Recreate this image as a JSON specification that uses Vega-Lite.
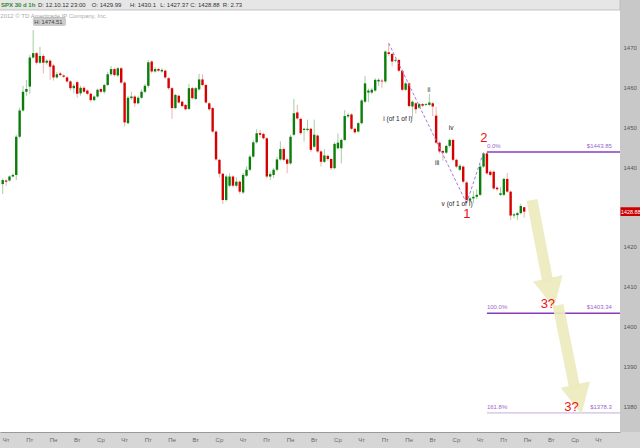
{
  "$schema": "https://vega.github.io/schema/vega-lite/v6.json",
  "width": 620,
  "height": 432,
  "autosize": {"type": "none"},
  "padding": {"left": 0, "top": 0, "right": 20, "bottom": 16},
  "background": "#d6d6d6",
  "view": {"fill": "#ffffff", "stroke": null},
  "config": {"font": "Liberation Sans"},
  "datasets": {
    "one": [{}],
    "days": [
      {"i": 1, "d": "Чт"}, {"i": 8, "d": "Пт"}, {"i": 15, "d": "Пн"}, {"i": 22, "d": "Вт"}, {"i": 29, "d": "Ср"},
      {"i": 36, "d": "Чт"}, {"i": 43, "d": "Пт"}, {"i": 50, "d": "Пн"}, {"i": 57, "d": "Вт"}, {"i": 64, "d": "Ср"},
      {"i": 71, "d": "Чт"}, {"i": 78, "d": "Пт"}, {"i": 85, "d": "Пн"}, {"i": 92, "d": "Вт"}, {"i": 99, "d": "Ср"},
      {"i": 106, "d": "Чт"}, {"i": 113, "d": "Пт"}, {"i": 120, "d": "Пн"}, {"i": 127, "d": "Вт"}, {"i": 134, "d": "Ср"},
      {"i": 141, "d": "Чт"}, {"i": 148, "d": "Пт"}, {"i": 155, "d": "Пн"}, {"i": 162, "d": "Вт"}, {"i": 169, "d": "Ср"},
      {"i": 176, "d": "Чт"}
    ],
    "candles": [
      {"i":0,"o":1435.8,"h":1437.2,"l":1433.3,"c":1436.8},
      {"i":1,"o":1436.7,"h":1437.0,"l":1435.3,"c":1436.4},
      {"i":2,"o":1436.7,"h":1438.0,"l":1436.4,"c":1437.7},
      {"i":3,"o":1437.7,"h":1438.5,"l":1437.5,"c":1438.1},
      {"i":4,"o":1438.1,"h":1448.2,"l":1436.8,"c":1447.7},
      {"i":5,"o":1447.7,"h":1455.0,"l":1447.3,"c":1454.3},
      {"i":6,"o":1454.3,"h":1460.5,"l":1454.0,"c":1459.0},
      {"i":7,"o":1459.0,"h":1462.0,"l":1458.0,"c":1459.7},
      {"i":8,"o":1460.3,"h":1468.3,"l":1458.5,"c":1467.6},
      {"i":9,"o":1467.6,"h":1474.51,"l":1467.3,"c":1468.7},
      {"i":10,"o":1468.7,"h":1469.0,"l":1465.8,"c":1466.3},
      {"i":11,"o":1466.3,"h":1470.3,"l":1466.0,"c":1468.0},
      {"i":12,"o":1468.0,"h":1468.5,"l":1463.6,"c":1466.3},
      {"i":13,"o":1466.3,"h":1467.2,"l":1465.8,"c":1466.8},
      {"i":14,"o":1466.8,"h":1467.2,"l":1462.0,"c":1465.3},
      {"i":15,"o":1465.6,"h":1466.0,"l":1461.8,"c":1462.6},
      {"i":16,"o":1462.6,"h":1464.0,"l":1462.3,"c":1463.4},
      {"i":17,"o":1463.6,"h":1464.0,"l":1462.9,"c":1463.2},
      {"i":18,"o":1463.1,"h":1463.4,"l":1462.5,"c":1462.8},
      {"i":19,"o":1462.6,"h":1462.9,"l":1461.3,"c":1461.6},
      {"i":20,"o":1461.6,"h":1461.9,"l":1459.3,"c":1459.9},
      {"i":21,"o":1459.9,"h":1461.0,"l":1458.6,"c":1460.5},
      {"i":22,"o":1461.4,"h":1461.8,"l":1457.5,"c":1458.5},
      {"i":23,"o":1458.6,"h":1460.5,"l":1458.0,"c":1460.0},
      {"i":24,"o":1460.0,"h":1460.4,"l":1458.6,"c":1459.0},
      {"i":25,"o":1459.3,"h":1459.6,"l":1458.1,"c":1458.5},
      {"i":26,"o":1458.5,"h":1458.8,"l":1456.5,"c":1456.9},
      {"i":27,"o":1456.9,"h":1458.1,"l":1456.6,"c":1457.8},
      {"i":28,"o":1457.8,"h":1459.8,"l":1457.5,"c":1459.5},
      {"i":29,"o":1459.7,"h":1460.0,"l":1458.7,"c":1459.0},
      {"i":30,"o":1459.0,"h":1461.0,"l":1458.5,"c":1460.7},
      {"i":31,"o":1460.7,"h":1464.0,"l":1460.4,"c":1463.4},
      {"i":32,"o":1463.4,"h":1465.5,"l":1463.0,"c":1464.7},
      {"i":33,"o":1464.7,"h":1465.0,"l":1462.8,"c":1463.2},
      {"i":34,"o":1463.1,"h":1465.2,"l":1462.7,"c":1464.9},
      {"i":35,"o":1464.9,"h":1465.2,"l":1461.0,"c":1461.3},
      {"i":36,"o":1461.3,"h":1461.6,"l":1450.3,"c":1451.3},
      {"i":37,"o":1451.1,"h":1458.0,"l":1450.8,"c":1457.5},
      {"i":38,"o":1457.4,"h":1459.0,"l":1457.0,"c":1457.8},
      {"i":39,"o":1457.8,"h":1458.2,"l":1455.2,"c":1456.1},
      {"i":40,"o":1456.1,"h":1458.0,"l":1455.8,"c":1457.5},
      {"i":41,"o":1457.5,"h":1459.6,"l":1457.2,"c":1459.0},
      {"i":42,"o":1459.0,"h":1461.0,"l":1458.7,"c":1460.5},
      {"i":43,"o":1460.5,"h":1467.0,"l":1460.0,"c":1466.4},
      {"i":44,"o":1466.6,"h":1466.9,"l":1463.6,"c":1464.1},
      {"i":45,"o":1464.1,"h":1465.2,"l":1463.8,"c":1464.7},
      {"i":46,"o":1464.7,"h":1465.0,"l":1464.0,"c":1464.3},
      {"i":47,"o":1464.1,"h":1464.9,"l":1463.8,"c":1464.5},
      {"i":48,"o":1464.3,"h":1464.6,"l":1462.2,"c":1462.6},
      {"i":49,"o":1462.4,"h":1462.7,"l":1459.5,"c":1459.9},
      {"i":50,"o":1459.9,"h":1460.2,"l":1452.2,"c":1454.9},
      {"i":51,"o":1454.9,"h":1458.5,"l":1454.6,"c":1458.2},
      {"i":52,"o":1458.0,"h":1458.3,"l":1456.0,"c":1456.3},
      {"i":53,"o":1456.5,"h":1456.8,"l":1455.0,"c":1455.4},
      {"i":54,"o":1455.7,"h":1455.9,"l":1454.3,"c":1454.6},
      {"i":55,"o":1454.7,"h":1461.0,"l":1454.4,"c":1459.9},
      {"i":56,"o":1459.9,"h":1460.2,"l":1457.0,"c":1457.4},
      {"i":57,"o":1457.2,"h":1460.2,"l":1456.9,"c":1459.9},
      {"i":58,"o":1459.6,"h":1463.5,"l":1459.3,"c":1462.1},
      {"i":59,"o":1462.1,"h":1463.4,"l":1460.4,"c":1460.7},
      {"i":60,"o":1460.7,"h":1461.0,"l":1456.0,"c":1456.3},
      {"i":61,"o":1456.1,"h":1456.4,"l":1454.2,"c":1454.6},
      {"i":62,"o":1454.9,"h":1455.2,"l":1448.7,"c":1449.0},
      {"i":63,"o":1449.0,"h":1449.3,"l":1441.7,"c":1442.0},
      {"i":64,"o":1441.9,"h":1442.2,"l":1437.5,"c":1438.4},
      {"i":65,"o":1438.4,"h":1438.6,"l":1430.8,"c":1431.8},
      {"i":66,"o":1431.8,"h":1438.2,"l":1431.4,"c":1437.7},
      {"i":67,"o":1435.4,"h":1438.5,"l":1435.0,"c":1437.7},
      {"i":68,"o":1437.7,"h":1438.0,"l":1435.0,"c":1435.4},
      {"i":69,"o":1435.4,"h":1437.5,"l":1435.0,"c":1436.4},
      {"i":70,"o":1436.4,"h":1436.7,"l":1433.3,"c":1433.9},
      {"i":71,"o":1433.7,"h":1438.6,"l":1433.3,"c":1438.1},
      {"i":72,"o":1437.9,"h":1440.2,"l":1437.6,"c":1439.4},
      {"i":73,"o":1439.4,"h":1443.2,"l":1439.0,"c":1442.7},
      {"i":74,"o":1442.7,"h":1446.8,"l":1442.4,"c":1446.3},
      {"i":75,"o":1446.3,"h":1449.6,"l":1446.0,"c":1448.6},
      {"i":76,"o":1448.6,"h":1449.4,"l":1447.5,"c":1448.2},
      {"i":77,"o":1448.4,"h":1448.7,"l":1447.0,"c":1447.3},
      {"i":78,"o":1447.3,"h":1447.6,"l":1437.2,"c":1437.7},
      {"i":79,"o":1437.7,"h":1439.0,"l":1436.8,"c":1438.3},
      {"i":80,"o":1438.1,"h":1439.8,"l":1437.3,"c":1439.4},
      {"i":81,"o":1439.4,"h":1442.6,"l":1439.0,"c":1442.0},
      {"i":82,"o":1442.0,"h":1446.5,"l":1441.7,"c":1444.6},
      {"i":83,"o":1444.6,"h":1445.0,"l":1441.5,"c":1441.9},
      {"i":84,"o":1442.0,"h":1442.3,"l":1438.5,"c":1440.9},
      {"i":85,"o":1441.0,"h":1448.2,"l":1440.7,"c":1447.7},
      {"i":86,"o":1448.2,"h":1457.2,"l":1447.9,"c":1453.6},
      {"i":87,"o":1453.8,"h":1455.7,"l":1452.0,"c":1452.3},
      {"i":88,"o":1452.2,"h":1452.5,"l":1448.2,"c":1448.6},
      {"i":89,"o":1449.4,"h":1450.0,"l":1446.5,"c":1449.7},
      {"i":90,"o":1449.4,"h":1452.0,"l":1449.0,"c":1449.7},
      {"i":91,"o":1449.7,"h":1450.0,"l":1443.9,"c":1444.4},
      {"i":92,"o":1445.2,"h":1452.0,"l":1444.9,"c":1448.2},
      {"i":93,"o":1448.0,"h":1448.3,"l":1443.6,"c":1444.0},
      {"i":94,"o":1444.0,"h":1444.3,"l":1440.2,"c":1441.4},
      {"i":95,"o":1441.4,"h":1444.6,"l":1441.1,"c":1443.0},
      {"i":96,"o":1442.9,"h":1443.2,"l":1441.6,"c":1442.1},
      {"i":97,"o":1442.1,"h":1442.4,"l":1439.3,"c":1439.8},
      {"i":98,"o":1439.8,"h":1446.3,"l":1439.5,"c":1445.9},
      {"i":99,"o":1444.8,"h":1448.5,"l":1444.5,"c":1446.2},
      {"i":100,"o":1444.8,"h":1447.2,"l":1441.0,"c":1446.9},
      {"i":101,"o":1446.9,"h":1454.4,"l":1446.6,"c":1452.9},
      {"i":102,"o":1452.8,"h":1453.6,"l":1452.4,"c":1453.2},
      {"i":103,"o":1453.3,"h":1453.6,"l":1449.4,"c":1449.7},
      {"i":104,"o":1449.7,"h":1450.0,"l":1448.5,"c":1448.8},
      {"i":105,"o":1449.0,"h":1451.4,"l":1448.7,"c":1451.1},
      {"i":106,"o":1451.1,"h":1457.2,"l":1450.8,"c":1456.8},
      {"i":107,"o":1456.5,"h":1463.0,"l":1456.2,"c":1461.1},
      {"i":108,"o":1458.8,"h":1459.8,"l":1456.4,"c":1459.3},
      {"i":109,"o":1458.8,"h":1460.0,"l":1458.4,"c":1459.5},
      {"i":110,"o":1459.3,"h":1462.4,"l":1459.0,"c":1462.0},
      {"i":111,"o":1461.6,"h":1462.4,"l":1460.5,"c":1462.0},
      {"i":112,"o":1461.8,"h":1462.2,"l":1460.0,"c":1461.6},
      {"i":113,"o":1461.6,"h":1469.4,"l":1461.2,"c":1469.1},
      {"i":114,"o":1468.9,"h":1471.2,"l":1468.0,"c":1468.5},
      {"i":115,"o":1468.5,"h":1468.8,"l":1465.4,"c":1466.6},
      {"i":116,"o":1466.8,"h":1467.4,"l":1466.4,"c":1467.0},
      {"i":117,"o":1467.0,"h":1467.3,"l":1464.0,"c":1464.3},
      {"i":118,"o":1464.3,"h":1464.6,"l":1459.2,"c":1459.5},
      {"i":119,"o":1459.5,"h":1461.5,"l":1459.2,"c":1461.1},
      {"i":120,"o":1461.1,"h":1461.4,"l":1455.0,"c":1455.4},
      {"i":121,"o":1455.3,"h":1456.8,"l":1452.5,"c":1456.5},
      {"i":122,"o":1456.1,"h":1456.4,"l":1453.5,"c":1454.6},
      {"i":123,"o":1455.0,"h":1456.2,"l":1454.7,"c":1455.9},
      {"i":124,"o":1455.9,"h":1456.2,"l":1455.2,"c":1455.5},
      {"i":125,"o":1455.7,"h":1456.2,"l":1455.4,"c":1455.9},
      {"i":126,"o":1455.7,"h":1458.5,"l":1455.4,"c":1456.3},
      {"i":127,"o":1456.1,"h":1456.4,"l":1452.9,"c":1455.3},
      {"i":128,"o":1453.0,"h":1455.2,"l":1445.9,"c":1446.2},
      {"i":129,"o":1446.2,"h":1446.5,"l":1443.5,"c":1444.0},
      {"i":130,"o":1444.1,"h":1444.4,"l":1441.7,"c":1443.7},
      {"i":131,"o":1443.7,"h":1445.7,"l":1443.4,"c":1445.4},
      {"i":132,"o":1445.4,"h":1447.2,"l":1445.0,"c":1446.9},
      {"i":133,"o":1446.9,"h":1447.2,"l":1441.5,"c":1441.9},
      {"i":134,"o":1441.9,"h":1442.2,"l":1439.8,"c":1440.2},
      {"i":135,"o":1439.4,"h":1440.8,"l":1439.0,"c":1440.4},
      {"i":136,"o":1440.2,"h":1440.5,"l":1436.0,"c":1436.4},
      {"i":137,"o":1436.2,"h":1436.5,"l":1431.0,"c":1431.8},
      {"i":138,"o":1431.6,"h":1432.5,"l":1431.3,"c":1432.2},
      {"i":139,"o":1432.2,"h":1434.0,"l":1431.0,"c":1432.6},
      {"i":140,"o":1432.6,"h":1434.5,"l":1432.0,"c":1433.1},
      {"i":141,"o":1433.1,"h":1440.8,"l":1432.8,"c":1440.2},
      {"i":142,"o":1440.2,"h":1443.85,"l":1439.9,"c":1443.5},
      {"i":143,"o":1443.5,"h":1443.85,"l":1438.1,"c":1438.5},
      {"i":144,"o":1438.9,"h":1439.3,"l":1437.7,"c":1438.1},
      {"i":145,"o":1438.9,"h":1439.2,"l":1434.4,"c":1434.7},
      {"i":146,"o":1434.9,"h":1435.2,"l":1434.0,"c":1434.5},
      {"i":147,"o":1433.1,"h":1435.0,"l":1432.8,"c":1433.5},
      {"i":148,"o":1433.1,"h":1437.4,"l":1432.8,"c":1437.1},
      {"i":149,"o":1437.1,"h":1438.6,"l":1433.6,"c":1433.9},
      {"i":150,"o":1433.9,"h":1434.2,"l":1426.8,"c":1427.9},
      {"i":151,"o":1427.9,"h":1428.5,"l":1427.2,"c":1428.2},
      {"i":152,"o":1428.0,"h":1428.8,"l":1426.8,"c":1428.5},
      {"i":153,"o":1428.5,"h":1430.9,"l":1428.2,"c":1430.3},
      {"i":154,"o":1429.99,"h":1430.1,"l":1427.37,"c":1428.88}
    ],
    "fib": [{"p": 1443.85}, {"p": 1403.34}, {"p": 1378.3}],
    "fibLeft": [
      {"p": 1445.4, "t": "0.0%"},
      {"p": 1404.9, "t": "100.0%"},
      {"p": 1379.8, "t": "161.8%"}
    ],
    "fibRight": [
      {"p": 1445.4, "t": "$1443.85"},
      {"p": 1404.9, "t": "$1403.34"},
      {"p": 1379.8, "t": "$1378.3"}
    ],
    "dash": [
      {"s": "a", "i": 114, "p": 1471.2},
      {"s": "a", "i": 137, "p": 1431.0},
      {"s": "b", "i": 137, "p": 1431.0},
      {"s": "b", "i": 142, "p": 1443.85}
    ],
    "arrows": [
      {"a": 1, "i": 156.3, "p": 1431.8},
      {"a": 1, "i": 161.0, "p": 1411.2},
      {"a": 2, "i": 164.0, "p": 1405.4},
      {"a": 2, "i": 169.0, "p": 1384.2}
    ],
    "heads": [
      {"i": 161.9, "p": 1408.4},
      {"i": 170.0, "p": 1381.7}
    ],
    "waves": [
      {"i": 116.7, "p": 1452.2, "t": "i (of 1 of I)"},
      {"i": 125.9, "p": 1459.4, "t": "ii"},
      {"i": 128.3, "p": 1441.1, "t": "iii"},
      {"i": 132.4, "p": 1449.9, "t": "iv"},
      {"i": 134.2, "p": 1430.7, "t": "v (of 1 of I)"}
    ],
    "reds": [
      {"i": 137.1, "p": 1428.2, "t": "1"},
      {"i": 142.1, "p": 1447.4, "t": "2"},
      {"i": 161.0, "p": 1405.7, "t": "3?"},
      {"i": 168.0, "p": 1379.8, "t": "3?"}
    ],
    "header": [
      {"i": 10.4, "t": "D: 12.10.12 23:00"},
      {"i": 26.3, "t": "O: 1429.99"},
      {"i": 37.6, "t": "H: 1430.1"},
      {"i": 46.5, "t": "L: 1427.37"},
      {"i": 55.4, "t": "C: 1428.88"},
      {"i": 65.0, "t": "R: 2.73"}
    ]
  },
  "layer": [
    {
      "data": {"name": "candles"},
      "mark": {"type": "rule", "strokeWidth": 1},
      "encoding": {
        "x": {
          "field": "i", "type": "quantitative",
          "scale": {"domain": [-0.8, 182.3], "nice": false, "zero": false, "padding": 0},
          "axis": {
            "values": [1,8,15,22,29,36,43,50,57,64,71,78,85,92,99,106,113,120,127,134,141,148,155,162,169,176],
            "labels": false,
            "title": null, "grid": false, "ticks": false, "tickSize": 0,
            "domainColor": "#9a9a9a", "zindex": 1
          }
        },
        "y": {
          "field": "l", "type": "quantitative",
          "scale": {"domain": [1373.5, 1482.06], "nice": false, "zero": false, "padding": 0},
          "axis": {
            "orient": "right",
            "values": [1380,1390,1400,1410,1420,1440,1450,1460,1470],
            "format": "d",
            "title": null, "grid": false, "ticks": false, "tickSize": 0,
            "labelFontSize": 6, "labelColor": "#555555", "labelPadding": 3,
            "domain": false, "labelFlush": false, "labelOverlap": false, "zindex": 1
          }
        },
        "y2": {"field": "h"},
        "color": {"condition": {"test": "datum.c >= datum.o", "value": "#a3cfa3"}, "value": "#f0b0b0"}
      }
    },
    {
      "data": {"name": "one"},
      "mark": {"type": "rect", "color": "#c8c8c8"},
      "encoding": {
        "x": {"datum": 182.3, "type": "quantitative"},
        "x2": {"datum": 196},
        "y": {"datum": 1373.5, "type": "quantitative"},
        "y2": {"datum": 1483}
      }
    },
    {
      "data": {"name": "one"},
      "mark": {"type": "rect", "color": "#e6e6e6", "stroke": "#b8b8b8", "strokeWidth": 0.8},
      "encoding": {
        "x": {"datum": -1.5, "type": "quantitative"},
        "x2": {"datum": 182.3},
        "y": {"datum": 1479.55, "type": "quantitative"},
        "y2": {"datum": 1483}
      }
    },
    {
      "data": {"name": "candles"},
      "mark": {"type": "bar", "size": 2.4},
      "encoding": {
        "x": {"field": "i", "type": "quantitative"},
        "y": {"field": "o", "type": "quantitative"},
        "y2": {"field": "c"},
        "color": {"condition": {"test": "datum.c >= datum.o", "value": "#0a7d0a"}, "value": "#d60000"}
      }
    },
    {
      "data": {"name": "fib"},
      "mark": {"type": "rule", "strokeWidth": 1.6},
      "encoding": {
        "x": {"datum": 143, "type": "quantitative"},
        "x2": {"datum": 182.3},
        "y": {"field": "p", "type": "quantitative"},
        "color": {"condition": {"test": "datum.p < 1390", "value": "#dcd0ea"}, "value": "#8a3cbf"}
      }
    },
    {
      "data": {"name": "dash"},
      "mark": {"type": "line", "strokeWidth": 1, "strokeDash": [3, 2], "color": "#a27ad6"},
      "encoding": {
        "x": {"field": "i", "type": "quantitative"},
        "y": {"field": "p", "type": "quantitative"},
        "detail": {"field": "s"}
      }
    },
    {
      "data": {"name": "arrows"},
      "mark": {"type": "line", "strokeWidth": 11, "strokeCap": "butt", "color": "#ebeabd", "opacity": 0.92},
      "encoding": {
        "x": {"field": "i", "type": "quantitative"},
        "y": {"field": "p", "type": "quantitative"},
        "detail": {"field": "a"}
      }
    },
    {
      "data": {"name": "heads"},
      "mark": {"type": "point", "shape": "M-1,-1L1,-1L0,1Z", "size": 900, "angle": 348, "filled": true, "color": "#ebeabd", "opacity": 0.92, "strokeWidth": 0},
      "encoding": {
        "x": {"field": "i", "type": "quantitative"},
        "y": {"field": "p", "type": "quantitative"}
      }
    },
    {
      "data": {"name": "days"},
      "mark": {"type": "text", "align": "center", "baseline": "middle", "fontSize": 6, "color": "#666666"},
      "encoding": {
        "x": {"field": "i", "type": "quantitative"},
        "y": {"datum": 1371.5, "type": "quantitative"},
        "text": {"field": "d"}
      }
    },
    {
      "data": {"name": "fibLeft"},
      "mark": {"type": "text", "align": "left", "baseline": "middle", "fontSize": 6, "color": "#9a66cc"},
      "encoding": {
        "x": {"datum": 143, "type": "quantitative"},
        "y": {"field": "p", "type": "quantitative"},
        "text": {"field": "t"}
      }
    },
    {
      "data": {"name": "fibRight"},
      "mark": {"type": "text", "align": "right", "baseline": "middle", "fontSize": 6, "color": "#9a66cc"},
      "encoding": {
        "x": {"datum": 179.9, "type": "quantitative"},
        "y": {"field": "p", "type": "quantitative"},
        "text": {"field": "t"}
      }
    },
    {
      "data": {"name": "waves"},
      "mark": {"type": "text", "align": "center", "baseline": "middle", "fontSize": 6.5, "color": "#222222"},
      "encoding": {
        "x": {"field": "i", "type": "quantitative"},
        "y": {"field": "p", "type": "quantitative"},
        "text": {"field": "t"}
      }
    },
    {
      "data": {"name": "reds"},
      "mark": {"type": "text", "align": "center", "baseline": "middle", "fontSize": 13, "color": "#f01010"},
      "encoding": {
        "x": {"field": "i", "type": "quantitative"},
        "y": {"field": "p", "type": "quantitative"},
        "text": {"field": "t"}
      }
    },
    {
      "data": {"name": "one"},
      "mark": {"type": "rect", "color": "#cccccc", "cornerRadius": 2},
      "encoding": {
        "x": {"datum": 8.9, "type": "quantitative"},
        "x2": {"datum": 18.7},
        "y": {"datum": 1475.5, "type": "quantitative"},
        "y2": {"datum": 1477.8}
      }
    },
    {
      "data": {"name": "one"},
      "mark": {"type": "text", "align": "left", "baseline": "middle", "fontSize": 5.8, "color": "#444444", "text": "H: 1474.51"},
      "encoding": {
        "x": {"datum": 9.3, "type": "quantitative"},
        "y": {"datum": 1476.65, "type": "quantitative"}
      }
    },
    {
      "data": {"name": "one"},
      "mark": {"type": "text", "align": "left", "baseline": "middle", "fontSize": 6, "color": "#aaaaaa", "text": "2012 © TD Ameritrade IP Company, Inc."},
      "encoding": {
        "x": {"datum": -0.7, "type": "quantitative"},
        "y": {"datum": 1478.1, "type": "quantitative"}
      }
    },
    {
      "data": {"name": "one"},
      "mark": {"type": "text", "align": "left", "baseline": "middle", "fontSize": 6, "fontWeight": "bold", "color": "#2c8a2c", "text": "SPX 30 d 1h"},
      "encoding": {
        "x": {"datum": -0.5, "type": "quantitative"},
        "y": {"datum": 1480.9, "type": "quantitative"}
      }
    },
    {
      "data": {"name": "header"},
      "mark": {"type": "text", "align": "left", "baseline": "middle", "fontSize": 6, "color": "#333333"},
      "encoding": {
        "x": {"field": "i", "type": "quantitative"},
        "y": {"datum": 1480.9, "type": "quantitative"},
        "text": {"field": "t"}
      }
    },
    {
      "data": {"name": "one"},
      "mark": {"type": "rect", "color": "#cc0000"},
      "encoding": {
        "x": {"datum": 182.45, "type": "quantitative"},
        "x2": {"datum": 196},
        "y": {"datum": 1427.8, "type": "quantitative"},
        "y2": {"datum": 1430.0}
      }
    },
    {
      "data": {"name": "one"},
      "mark": {"type": "text", "align": "left", "baseline": "middle", "fontSize": 5.4, "color": "#ffffff", "text": "1428.88"},
      "encoding": {
        "x": {"datum": 182.6, "type": "quantitative"},
        "y": {"datum": 1428.9, "type": "quantitative"}
      }
    }
  ]
}
